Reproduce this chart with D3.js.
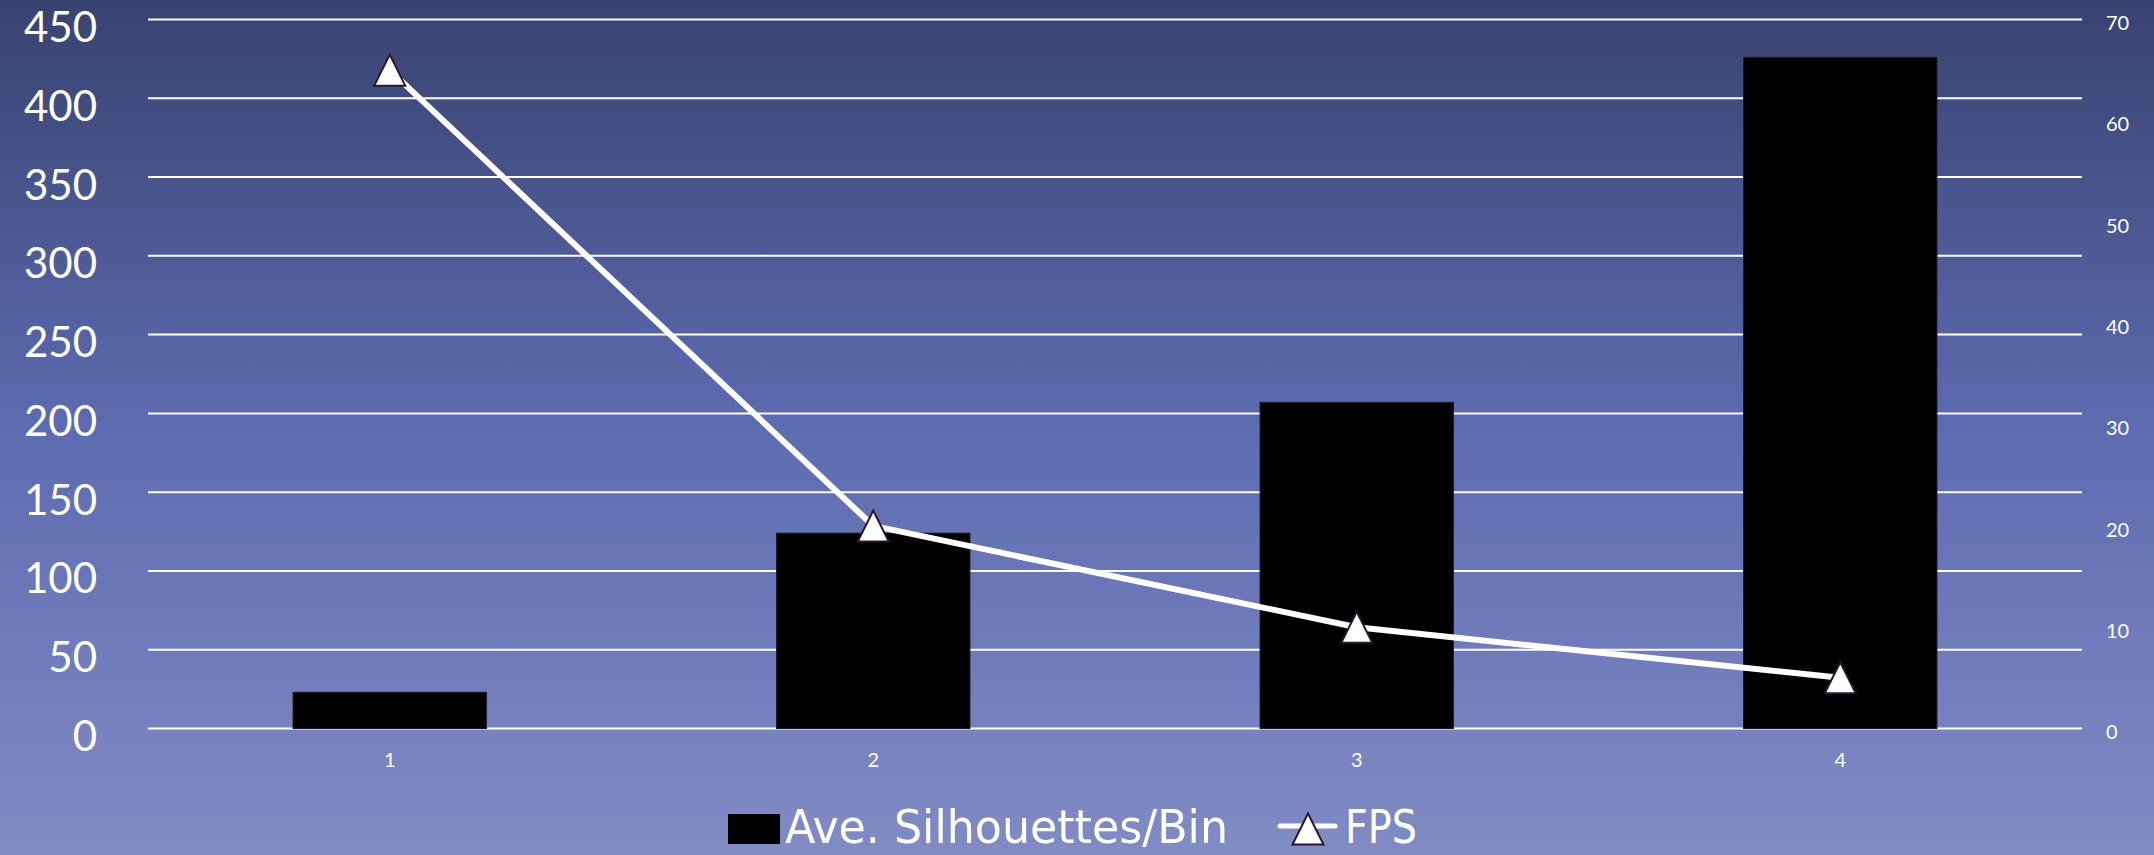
<!DOCTYPE html>
<html>
<head>
<meta charset="utf-8">
<script src="https://cdn.jsdelivr.net/npm/d3@7"></script>
<style>
  html, body { margin: 0; padding: 0; overflow: hidden; }
  svg { display: block; }
</style>
</head>
<body>
<svg id="chart" width="2154" height="855"></svg>
<script>
// Chart data
const categories = ["1", "2", "3", "4"];
const silhouettesPerBin = [23, 124, 207, 426];
const fps = [65, 20, 10, 5];
const leftTicks = [0, 50, 100, 150, 200, 250, 300, 350, 400, 450];
const rightTicks = [0, 10, 20, 30, 40, 50, 60, 70];
const seriesNames = ["Ave. Silhouettes/Bin", "FPS"];

const W = 2154, H = 855;
const plot = { left: 148, right: 2082, top: 19.5, bottom: 728.5 };

const svg = d3.select("#chart");

// Background gradient
const defs = svg.append("defs");
const grad = defs.append("linearGradient")
  .attr("id", "bg").attr("x1", 0).attr("y1", 0).attr("x2", 0).attr("y2", 1);
grad.append("stop").attr("offset", "0%").attr("stop-color", "#384370");
grad.append("stop").attr("offset", "50%").attr("stop-color", "#5d6bb0");
grad.append("stop").attr("offset", "100%").attr("stop-color", "#818bc4");
svg.append("rect").attr("width", W).attr("height", H).attr("fill", "url(#bg)");

// Scales
const x = d3.scaleBand()
  .domain(categories)
  .range([plot.left, plot.right])
  .paddingInner(0.6)
  .paddingOuter(0.3);
const yL = d3.scaleLinear().domain([0, 450]).range([plot.bottom, plot.top]);
const yR = d3.scaleLinear().domain([0, 70]).range([plot.bottom, plot.top]);

// Horizontal gridlines
svg.append("g")
  .selectAll("line")
  .data(leftTicks)
  .join("line")
  .attr("x1", plot.left).attr("x2", plot.right)
  .attr("y1", d => yL(d)).attr("y2", d => yL(d))
  .attr("stroke", "#ffffff").attr("stroke-width", 2);

// Left axis labels
const leftAxis = d3.axisLeft(yL).tickValues(leftTicks).tickSize(0).tickPadding(0);
const gL = svg.append("g").attr("transform", "translate(97,0)").call(leftAxis);
gL.select(".domain").remove();
gL.selectAll("text")
  .attr("font-family", "Lato, 'Open Sans', sans-serif")
  .attr("font-size", 42)
  .attr("fill", "#ffffff")
  .attr("dy", "0.38em")
  .attr("transform", "translate(0,6)");

// Right axis labels
const rightAxis = d3.axisRight(yR).tickValues(rightTicks).tickSize(0).tickPadding(0);
const gR = svg.append("g").attr("transform", "translate(2106,0)").call(rightAxis);
gR.select(".domain").remove();
gR.selectAll("text")
  .attr("font-family", "Lato, 'Open Sans', sans-serif")
  .attr("font-size", 20)
  .attr("fill", "#ffffff")
  .attr("dy", "0.36em")
  .attr("transform", "translate(0,3)");

// Category labels
const bottomAxis = d3.axisBottom(x).tickSize(0).tickPadding(0);
const gB = svg.append("g").attr("transform", "translate(0,767)").call(bottomAxis);
gB.select(".domain").remove();
gB.selectAll("text")
  .attr("font-family", "Lato, 'Open Sans', sans-serif")
  .attr("font-size", 20)
  .attr("fill", "#ffffff")
  .attr("dy", 0);

// Bars
svg.append("g")
  .selectAll("rect")
  .data(categories.map((c, i) => ({ c, v: silhouettesPerBin[i] })))
  .join("rect")
  .attr("x", d => x(d.c))
  .attr("width", x.bandwidth())
  .attr("y", d => yL(d.v))
  .attr("height", d => yL(0) - yL(d.v))
  .attr("fill", "#000000")
  .attr("stroke", "#1b1b2e")
  .attr("stroke-width", 1);

// FPS line
const pts = categories.map((c, i) => ({ c, v: fps[i] }));
const line = d3.line()
  .x(d => x(d.c) + x.bandwidth() / 2)
  .y(d => yR(d.v));
svg.append("path")
  .datum(pts)
  .attr("d", line)
  .attr("fill", "none")
  .attr("stroke", "#ffffff")
  .attr("stroke-width", 6)
  .attr("stroke-linejoin", "round");

// Triangle marker centred on its bounding box
const tri = (s) => {
  const p = d3.path();
  p.moveTo(0, -s / 2);
  p.lineTo(s / 2, s / 2);
  p.lineTo(-s / 2, s / 2);
  p.closePath();
  return p.toString();
};

svg.append("g")
  .selectAll("path")
  .data(pts)
  .join("path")
  .attr("d", tri(31))
  .attr("transform", d => `translate(${x(d.c) + x.bandwidth() / 2},${yR(d.v)})`)
  .attr("fill", "#ffffff")
  .attr("stroke", "#2a1633")
  .attr("stroke-width", 2)
  .attr("stroke-linejoin", "miter");

// Legend
const legend = svg.append("g");
legend.append("rect")
  .attr("x", 728).attr("y", 814).attr("width", 52).attr("height", 30)
  .attr("fill", "#000000");
legend.append("text")
  .attr("x", 785).attr("y", 843)
  .attr("font-family", "'DejaVu Sans Condensed', 'DejaVu Sans', sans-serif")
  .attr("font-size", 47)
  .attr("fill", "#ffffff")
  .attr("textLength", 443)
  .attr("lengthAdjust", "spacingAndGlyphs")
  .text(seriesNames[0]);
legend.append("line")
  .attr("x1", 1280).attr("x2", 1335).attr("y1", 826).attr("y2", 826)
  .attr("stroke", "#ffffff").attr("stroke-width", 5).attr("stroke-linecap", "round");
legend.append("path")
  .attr("d", tri(31))
  .attr("transform", "translate(1308,829)")
  .attr("fill", "#ffffff")
  .attr("stroke", "#2a1633")
  .attr("stroke-width", 2);
legend.append("text")
  .attr("x", 1345).attr("y", 843)
  .attr("font-family", "'DejaVu Sans Condensed', 'DejaVu Sans', sans-serif")
  .attr("font-size", 47)
  .attr("fill", "#ffffff")
  .attr("textLength", 72)
  .attr("lengthAdjust", "spacingAndGlyphs")
  .text(seriesNames[1]);
</script>
</body>
</html>
